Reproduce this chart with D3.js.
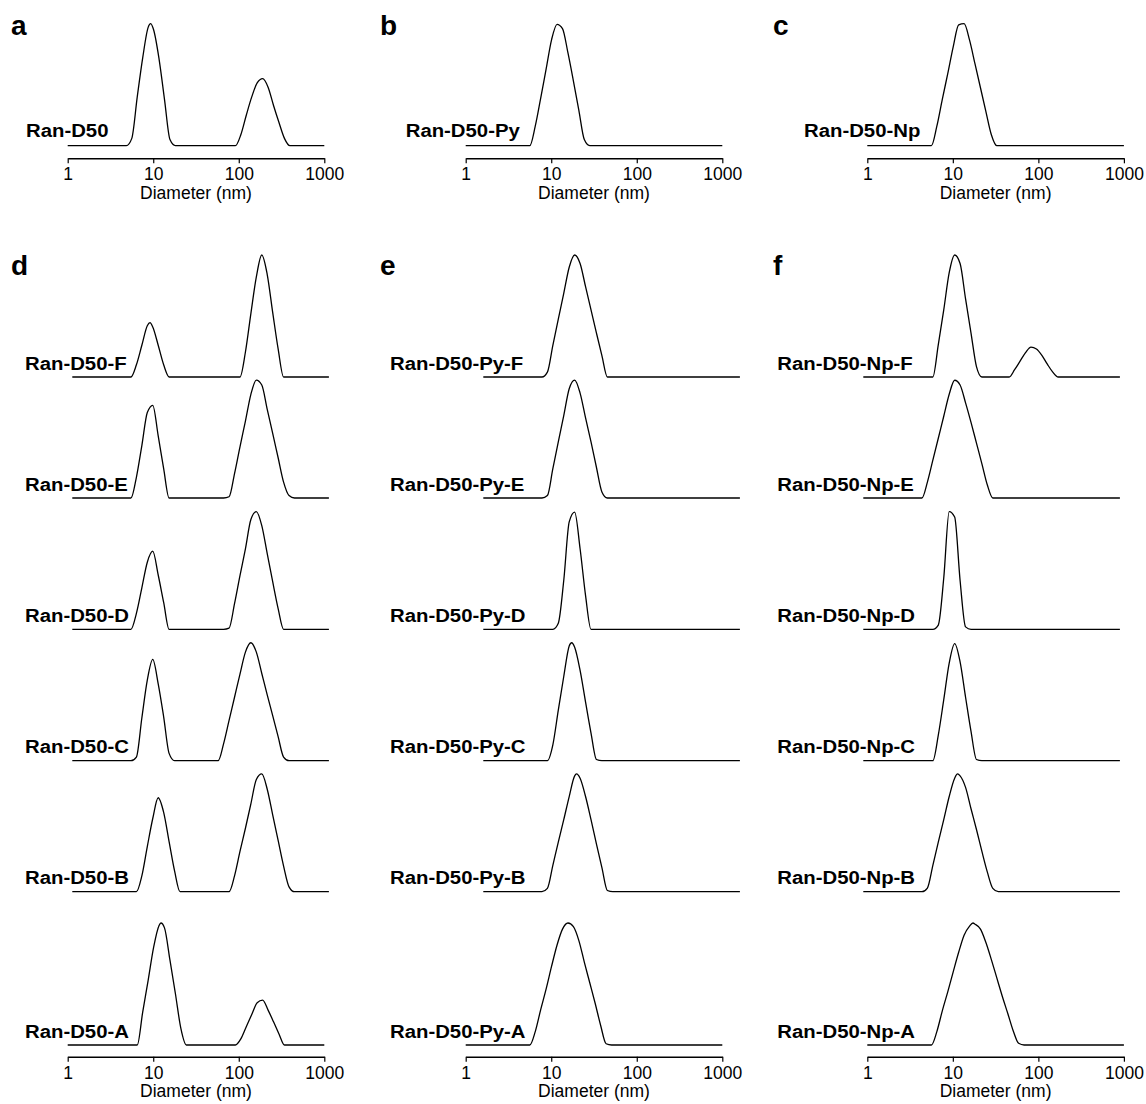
<!DOCTYPE html>
<html>
<head>
<meta charset="utf-8">
<script src="https://cdn.jsdelivr.net/npm/d3@7"></script>
<style>
  body { margin: 0; background: #fff; }
  svg { display: block; }
  text { font-family: "Liberation Sans", Arial, Helvetica, sans-serif; fill: #000; }
</style>
</head>
<body>
<svg id="chart" width="1146" height="1104"></svg>
<script>
// DLS intensity size distributions: [diameter (nm), relative intensity]
const ranD50 = [[4.849,0],[5.615,6],[6.503,40],[7.531,72],[8.721,97],[9.34,100],[10.10,95],[11.70,71],[13.54,38],[15.69,5],[18.17,0],
  [91.28,0],[105.7,9],[122.4,25],[141.8,40],[164.2,51.5],[190.1,55],[220.2,48],[255.0,33],[295.3,19],[342.0,6],[396.1,0]];
const ranD50Py = [[5.615,0],[6.503,16],[7.531,39],[8.721,63],[10.10,87],[11.70,99.5],[13.54,96],[15.69,76],[18.17,53],[21.04,29],[24.36,5],[28.21,0]];
const ranD50Np = [[5.615,0],[6.503,16],[7.531,38],[8.721,59],[10.10,81],[11.70,99],[13.54,100],[15.69,86.5],[18.17,67],[21.04,47.5],[24.36,28],[28.21,9],[32.67,0]];

const ranD50F = [[4.849,0],[5.615,10],[6.503,26],[7.531,42],[8.1,44.5],[8.721,41],[10.10,26],[11.70,10],[13.54,0],
  [91.28,0],[105.7,20.5],[122.4,52],[141.8,82],[164.2,100],[190.1,84],[220.2,53],[255.0,23],[295.3,0]];
const ranD50E = [[4.849,0],[5.615,17],[6.503,43],[7.531,70],[8.721,76],[10.10,51],[11.70,24],[13.54,0],
  [58.77,0],[68.06,1],[78.82,20],[91.28,42],[105.7,63],[122.4,85],[141.8,96.7],[164.2,92.6],[190.1,72.7],[220.2,53],[255.0,33],[295.3,13],[342.0,2],[396.1,0]];
const ranD50D = [[4.849,0],[5.615,13],[6.503,34],[7.531,55],[8.721,64],[10.10,44.5],[11.70,22],[13.54,0],
  [58.77,0],[68.06,1],[78.82,21],[91.28,44],[105.7,66],[122.4,90],[141.8,96.5],[164.2,85],[190.1,62],[220.2,39],[255.0,17],[295.3,0]];
const ranD50C = [[4.849,0],[5.615,3],[6.503,35],[7.531,66],[8.721,83],[10.10,63],[11.70,36],[13.54,6],[15.69,0],
  [50.75,0],[58.77,14],[68.06,33],[78.82,52],[91.28,71],[105.7,89],[122.4,96.7],[141.8,89],[164.2,71.5],[190.1,54],[220.2,37],[255.0,19.7],[295.3,3],[342.0,0]];
const ranD50B = [[5.615,0],[6.503,13],[7.531,37],[8.721,60],[10.10,77],[11.70,65],[13.54,41],[15.69,17],[18.17,0],
  [68.06,0],[78.82,13],[91.28,33],[105.7,52],[122.4,72],[141.8,92],[164.2,96.5],[190.1,84],[220.2,63],[255.0,42],[295.3,21],[342.0,4],[396.1,0]];
const ranD50A = [[6.503,0],[7.531,27],[8.721,53],[10.10,80],[11.70,98],[12.3,100],[13.54,96],[15.69,69.5],[18.17,42],[21.04,13.6],[24.36,0],
  [91.28,0],[105.7,5],[122.4,15],[141.8,25],[164.2,34.6],[190.1,36.8],[220.2,28.6],[255.0,19],[295.3,9],[342.0,0]];

const ranD50PyF = [[4.849,0],[5.615,4],[6.503,26],[7.531,47.5],[8.721,68.6],[10.10,90],[11.70,100],[13.54,93],[15.69,74],[18.17,55],[21.04,36],[24.36,17.5],[28.21,0]];
const ranD50PyE = [[4.849,0],[5.615,2],[6.503,24],[7.531,46],[8.721,67.5],[10.10,89.6],[11.70,96.7],[13.54,86],[15.69,65.6],[18.17,46],[21.04,25],[24.36,5],[28.21,0]];
const ranD50PyD = [[6.503,0],[7.531,5],[8.721,40],[10.10,88],[11.70,96],[13.54,66],[15.69,27.6],[18.17,0]];
const ranD50PyC = [[5.615,0],[6.503,13],[7.531,41.5],[8.721,69],[10.10,94],[10.8,96.7],[11.70,93],[13.54,74],[15.69,48],[18.17,22.7],[21.04,1],[24.36,0]];
const ranD50PyB = [[4.849,0],[5.615,2.7],[6.503,21.6],[7.531,40.7],[8.721,59],[10.10,78],[11.70,95],[12.3,96.5],[13.54,93],[15.69,78],[18.17,59],[21.04,39],[24.36,19.7],[28.21,1],[32.67,0]];
const ranD50PyA = [[5.615,0],[6.503,11],[7.531,29],[8.721,46],[10.10,64.6],[11.70,82],[13.54,95],[15.69,100],[18.17,97],[21.04,85.6],[24.36,68],[28.21,51],[32.67,34],[37.84,16],[43.82,1],[50.75,0]];

const ranD50NpF = [[6.503,0],[7.531,26.5],[8.721,55],[10.10,85.5],[11.70,100],[13.54,93],[15.69,64],[18.17,36],[21.04,8.5],[24.36,0],
  [50.75,0],[58.77,6],[68.06,13],[78.82,20],[91.28,24.5],[105.7,23],[122.4,17.8],[141.8,10.5],[164.2,4],[190.1,0]];
const ranD50NpE = [[4.849,0],[5.615,13],[6.503,31],[7.531,49],[8.721,67],[10.10,85],[11.70,96.5],[13.54,92.6],[15.69,78],[18.17,62],[21.04,45],[24.36,28],[28.21,10.6],[32.67,0]];
const ranD50NpD = [[6.503,0],[7.531,3.5],[8.721,42],[10.10,96.5],[11.70,92],[13.54,40],[15.69,2],[18.17,0]];
const ranD50NpC = [[6.503,0],[7.531,21],[8.721,50],[10.10,80],[11.70,96],[13.54,81],[15.69,52],[18.17,24],[21.04,1],[24.36,0]];
const ranD50NpB = [[4.849,0],[5.615,3],[6.503,21.6],[7.531,40.7],[8.721,59],[10.10,78],[11.70,93],[12.65,96.5],[13.54,95],[15.69,85.5],[18.17,68],[21.04,51],[24.36,33],[28.21,16],[32.67,2.7],[37.84,0]];
const ranD50NpA = [[5.615,0],[6.503,11],[7.531,28],[8.721,43.6],[10.10,60],[11.70,76],[13.54,90],[15.69,97.5],[17.2,100],[18.17,99],[21.04,95],[24.36,84],[28.21,70],[32.67,55],[37.84,40],[43.82,26],[50.75,11.7],[58.77,1.4],[68.06,0]];

const sizeRange = [1, 1000];
const tickValues = [1, 10, 100, 1000];
const tickLabels = ["1", "10", "100", "1000"];
const axisTitle = "Diameter (nm)";
const topLetters = ["a", "b", "c"];
const bottomLetters = ["d", "e", "f"];
const topNames = ["Ran-D50", "Ran-D50-Py", "Ran-D50-Np"];
const stackSuffixes = ["F", "E", "D", "C", "B", "A"];
const topSeries = [ranD50, ranD50Py, ranD50Np];
const stackSeries = [
  [ranD50F, ranD50E, ranD50D, ranD50C, ranD50B, ranD50A],
  [ranD50PyF, ranD50PyE, ranD50PyD, ranD50PyC, ranD50PyB, ranD50PyA],
  [ranD50NpF, ranD50NpE, ranD50NpD, ranD50NpC, ranD50NpB, ranD50NpA]
];

// ---- layout ----
const colX = [67.7, 465.7, 867.3];      // x of 1 nm on each axis
const axisW = 256.6;                    // 1 → 1000 nm
const stackShift = [4.6, 17.6, -4];     // horizontal offset of the stacked traces (not the lowest one)
const labelX = [[26, 405.7, 804], [25, 390, 777.3]];
const letterX = [11, 380, 773];
const topBase = 145.7, topAxisY = 158.3;
const stackBases = [377, 498, 629.3, 760.7, 891.7, 1045];
const bottomAxisY = 1056.7;
const peakPx = 122;                      // pixels per 100 intensity units

const svg = d3.select("#chart");

function xScaleFor(x0) {
  return d3.scaleLog().domain(sizeRange).range([x0, x0 + axisW]);
}

function drawTrace(g, data, x0, base) {
  const x = xScaleFor(x0);
  const y = d3.scaleLinear().domain([0, 100]).range([base, base - peakPx]);
  const pts = [[sizeRange[0], 0], ...data, [sizeRange[1], 0]];
  g.append("path")
    .datum(pts)
    .attr("fill", "none")
    .attr("stroke", "#000")
    .attr("stroke-width", 1.3)
    .attr("stroke-linejoin", "round")
    .attr("d", d3.line().curve(d3.curveMonotoneX).x(d => x(d[0])).y(d => y(d[1])));
}

function drawLabel(g, text, x, y) {
  g.append("text")
    .attr("transform", `translate(${x},${y}) scale(1.13,1)`)
    .attr("font-size", 18)
    .attr("font-weight", "bold")
    .text(text);
}

function drawAxis(g, x0, y) {
  const x = xScaleFor(x0);
  const ax = g.append("g")
    .attr("transform", `translate(0,${y})`)
    .call(d3.axisBottom(x)
      .tickValues(tickValues)
      .tickFormat((d, i) => tickLabels[i])
      .tickSize(5)
      .tickSizeOuter(0)
      .tickPadding(4.5));
  ax.select(".domain").attr("stroke", "#000").attr("stroke-width", 1.4);
  ax.selectAll(".tick line").attr("stroke", "#000").attr("stroke-width", 1.2);
  ax.selectAll(".tick text")
    .attr("font-size", 17.5)
    .attr("font-family", "Liberation Sans, Arial, sans-serif")
    .attr("fill", "#000");
  g.append("text")
    .attr("x", x0 + axisW / 2)
    .attr("y", y + 40.3)
    .attr("text-anchor", "middle")
    .attr("font-size", 17.5)
    .text(axisTitle);
}

function drawLetter(text, x, y) {
  svg.append("text")
    .attr("x", x).attr("y", y)
    .attr("font-size", 28)
    .attr("font-weight", "bold")
    .text(text);
}

// top row: a, b, c
topSeries.forEach((data, c) => {
  const g = svg.append("g");
  drawTrace(g, data, colX[c], topBase);
  drawLabel(g, topNames[c], labelX[0][c], topBase - 9);
  drawAxis(g, colX[c], topAxisY);
  drawLetter(topLetters[c], letterX[c], 35);
});

// bottom row: d, e, f (stacked F → A)
stackSeries.forEach((list, c) => {
  const g = svg.append("g");
  list.forEach((data, r) => {
    const last = r === list.length - 1;
    const x0 = last ? colX[c] : colX[c] + stackShift[c];
    drawTrace(g, data, x0, stackBases[r]);
    drawLabel(g, `${topNames[c]}-${stackSuffixes[r]}`, labelX[1][c], stackBases[r] - 7.5);
  });
  drawAxis(g, colX[c], bottomAxisY);
  drawLetter(bottomLetters[c], letterX[c], 275);
});
</script>
</body>
</html>
